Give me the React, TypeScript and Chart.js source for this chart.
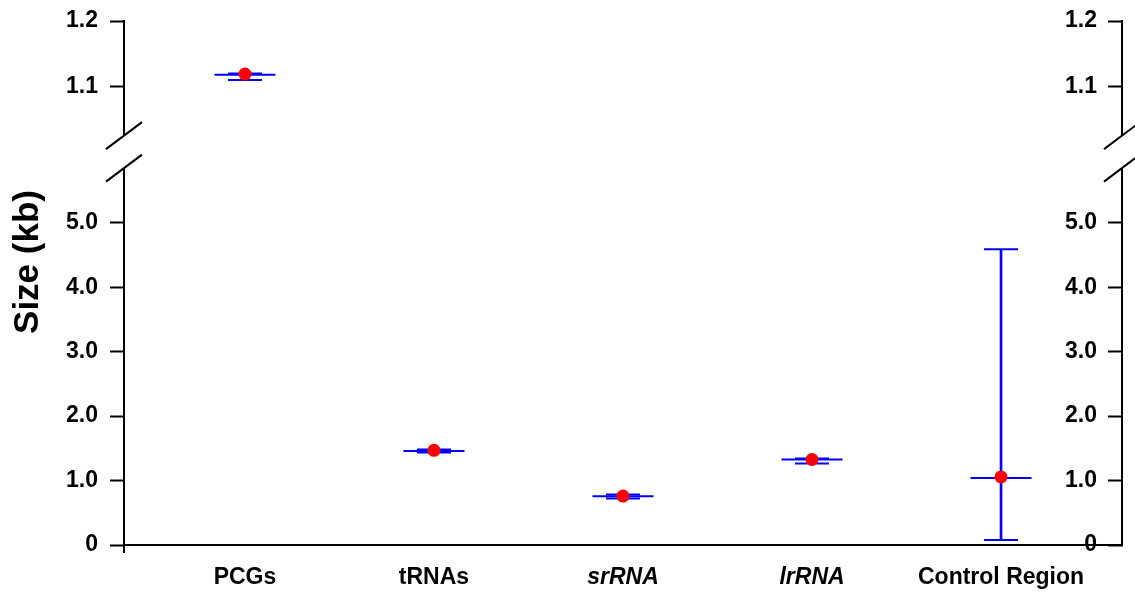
import React, { useEffect, useRef } from 'react';
import { Chart, registerables } from 'chart.js';

Chart.register(...registerables);

// ---- data ----
const categories = ['PCGs', 'tRNAs', 'srRNA', 'lrRNA', 'Control Region'];
const italicCategories = ['srRNA', 'lrRNA'];
const upperSectionCategories = ['PCGs'];
const meanValues = [1.118, 1.46, 0.758, 1.327, 1.04];
const dotValues = [1.119, 1.47, 0.76, 1.327, 1.057];
const lowValues = [1.11, 1.435, 0.723, 1.265, 0.077];
const highValues = [1.12, 1.481, 0.785, 1.342, 4.59];

const lowerTicks = [0, 1, 2, 3, 4, 5];
const lowerTickLabels = ['0', '1.0', '2.0', '3.0', '4.0', '5.0'];
const upperTicks = [1.1, 1.2];
const upperTickLabels = ['1.1', '1.2'];
const lowerRange = [0, 6.1];
const upperRange = [1.0, 1.2];
const breakUpper = 1.025;
const breakLower = 5.85;
const xRange = [-0.64, 4.64];
const yTitle = 'Size (kb)';

const FONT = '"Liberation Sans", Arial, Helvetica, sans-serif';
const BLUE = '#0000FF';
const RED = '#FF0000';

export default function App() {
  const ref = useRef<HTMLCanvasElement>(null);

  useEffect(() => {
    const canvas = ref.current;
    if (!canvas) return;

    const isUpper = (i: number) => upperSectionCategories.includes(categories[i]);
    const pts = (vals: number[], upper: boolean) =>
      categories
        .map((_, i) => ({ x: i, y: vals[i] }))
        .filter((_, i) => isUpper(i) === upper);
    const capPts = (upper: boolean) => [...pts(lowValues, upper), ...pts(highValues, upper)];
    const barPts = (upper: boolean) =>
      categories
        .map((_, i) => ({ x: i, y: [lowValues[i], highValues[i]] }))
        .filter((_, i) => isUpper(i) === upper);

    const tickFont = { family: FONT, size: 23, weight: 'bold' as const };

    const breakPlugin = {
      id: 'axisBreak',
      afterDraw(chart: any) {
        const { ctx, chartArea, scales } = chart;
        const y1 = scales.yTop.getPixelForValue(breakUpper);
        const y2 = scales.y.getPixelForValue(breakLower);
        ctx.save();
        for (const x of [chartArea.left, chartArea.right]) {
          ctx.fillStyle = '#fff';
          ctx.fillRect(x - 3, y1, 6, y2 - y1);
          ctx.strokeStyle = '#000';
          ctx.lineWidth = 2;
          for (const y of [y1, y2]) {
            ctx.beginPath();
            ctx.moveTo(x - 18, y + 13.5);
            ctx.lineTo(x + 18, y - 13.5);
            ctx.stroke();
          }
        }
        ctx.beginPath();
        ctx.moveTo(chartArea.left, chartArea.bottom);
        ctx.lineTo(chartArea.left, chartArea.bottom + 8);
        ctx.stroke();
        ctx.translate(28, 262);
        ctx.rotate(-Math.PI / 2);
        ctx.font = `bold 35px ${FONT}`;
        ctx.fillStyle = '#000';
        ctx.textAlign = 'center';
        ctx.textBaseline = 'middle';
        ctx.fillText(yTitle, 0, 0);
        ctx.restore();
      },
    };

    const yAxis = (
      section: 'upper' | 'lower',
      side: 'left' | 'right',
    ): any => {
      const ticksArr = section === 'upper' ? upperTicks : lowerTicks;
      const labels = section === 'upper' ? upperTickLabels : lowerTickLabels;
      const range = section === 'upper' ? upperRange : lowerRange;
      const left = side === 'left';
      return {
        type: 'linear',
        position: side,
        stack: side,
        stackWeight: section === 'upper' ? 1 : 3,
        weight: left ? (section === 'upper' ? 1 : 0) : section === 'upper' ? 0 : 1,
        min: range[0],
        max: range[1],
        bounds: 'data',
        offset: false,
        afterBuildTicks: (s: any) => {
          s.ticks = ticksArr.map((v) => ({ value: v }));
        },
        afterFit: (s: any) => {
          s.width = left ? 124 : 13;
          s.paddingTop = 0;
          s.paddingBottom = 0;
        },
        ticks: {
          callback: (v: number) => labels[ticksArr.indexOf(v)],
          font: tickFont,
          color: '#000',
          padding: left ? 12 : -25,
          mirror: !left,
        },
        grid: {
          drawOnChartArea: false,
          drawTicks: true,
          tickLength: left ? 14 : -14,
          tickColor: '#000',
          tickWidth: 2,
          color: '#000',
        },
        border: { display: true, color: '#000', width: 2 },
      };
    };

    const chart = new Chart(canvas, {
      type: 'scatter',
      data: {
        datasets: [
          {
            type: 'scatter',
            label: 'dots',
            data: pts(dotValues, false),
            yAxisID: 'y',
            pointStyle: 'circle',
            pointRadius: 6.5,
            pointBackgroundColor: RED,
            pointBorderWidth: 0,
            order: 0,
          },
          {
            type: 'scatter',
            label: 'dotsTop',
            data: pts(dotValues, true),
            yAxisID: 'yTop',
            pointStyle: 'circle',
            pointRadius: 6.5,
            pointBackgroundColor: RED,
            pointBorderWidth: 0,
            order: 0,
          },
          {
            type: 'scatter',
            label: 'mean',
            data: pts(meanValues, false),
            yAxisID: 'y',
            pointStyle: 'line',
            pointRadius: 30.5,
            pointBorderColor: BLUE,
            pointBorderWidth: 2,
            order: 1,
          },
          {
            type: 'scatter',
            label: 'meanTop',
            data: pts(meanValues, true),
            yAxisID: 'yTop',
            pointStyle: 'line',
            pointRadius: 30.5,
            pointBorderColor: BLUE,
            pointBorderWidth: 2,
            order: 1,
          },
          {
            type: 'scatter',
            label: 'caps',
            data: capPts(false),
            yAxisID: 'y',
            pointStyle: 'line',
            pointRadius: 17,
            pointBorderColor: BLUE,
            pointBorderWidth: 2,
            order: 1,
          },
          {
            type: 'scatter',
            label: 'capsTop',
            data: capPts(true),
            yAxisID: 'yTop',
            pointStyle: 'line',
            pointRadius: 17,
            pointBorderColor: BLUE,
            pointBorderWidth: 2,
            order: 1,
          },
          {
            type: 'bar',
            label: 'range',
            data: barPts(false) as any,
            yAxisID: 'y',
            backgroundColor: BLUE,
            borderWidth: 0,
            barThickness: 2,
            grouped: false,
            order: 2,
          } as any,
          {
            type: 'bar',
            label: 'rangeTop',
            data: barPts(true) as any,
            yAxisID: 'yTop',
            backgroundColor: BLUE,
            borderWidth: 0,
            barThickness: 2,
            grouped: false,
            order: 2,
          } as any,
        ],
      },
      options: {
        animation: false,
        responsive: false,
        events: [],
        layout: { autoPadding: false, padding: { top: 21, left: 0, right: 0, bottom: 0 } },
        plugins: {
          legend: { display: false },
          tooltip: { enabled: false },
        },
        scales: {
          x: {
            type: 'linear',
            position: 'bottom',
            min: xRange[0],
            max: xRange[1],
            bounds: 'data',
            offset: false,
            afterBuildTicks: (s: any) => {
              s.ticks = categories.map((_, i) => ({ value: i }));
            },
            afterFit: (s: any) => {
              s.height = 47;
              s.paddingLeft = 0;
              s.paddingRight = 0;
            },
            ticks: {
              callback: (v: number) => categories[v],
              autoSkip: false,
              maxRotation: 0,
              color: '#000',
              padding: 19,
              font: (ctx: any) => ({
                family: FONT,
                size: 23,
                weight: 'bold',
                style: italicCategories.includes(categories[ctx.index]) ? 'italic' : 'normal',
              }),
            },
            grid: { drawOnChartArea: false, drawTicks: false, color: '#000', offset: false },
            border: { display: true, color: '#000', width: 2 },
          },
          yTop: yAxis('upper', 'left'),
          y: yAxis('lower', 'left'),
          yTopR: yAxis('upper', 'right'),
          yR: yAxis('lower', 'right'),
        } as any,
      },
      plugins: [breakPlugin],
    } as any);

    return () => chart.destroy();
  }, []);

  return (
    <div style={{ position: 'absolute', left: 0, top: 0, width: 1135, height: 592, background: '#fff' }}>
      <canvas ref={ref} width={1135} height={592} style={{ display: 'block' }} />
    </div>
  );
}
